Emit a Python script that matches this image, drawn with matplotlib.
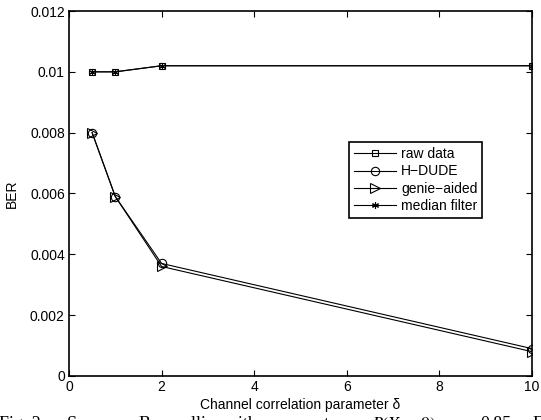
import matplotlib
matplotlib.use("Agg")
import matplotlib.pyplot as plt

plt.rcParams['font.family'] = ['Liberation Sans', 'DejaVu Sans']
plt.rcParams['mathtext.fontset'] = 'stix'

# data
delta = [0.5, 1, 2, 10]
raw_data = [0.0100, 0.0100, 0.0102, 0.0102]
h_dude = [0.0080, 0.0059, 0.0037, 0.0009]
genie_aided = [0.0080, 0.0059, 0.0036, 0.0008]
median_filter = [0.0100, 0.0100, 0.0102, 0.0102]

xticks = [0, 2, 4, 6, 8, 10]
yticks = [0, 0.002, 0.004, 0.006, 0.008, 0.01, 0.012]
yticklabels = ["0", "0.002", "0.004", "0.006", "0.008", "0.01", "0.012"]

# caption words of the (cropped) paper figure, justified line
caption_words = ["Fig. 2.", "Source", "Bernoulli", "with", "parameter",
                 r"$P(X_t = 0)$", "=", "0.85.", "F"]
caption_x = [-1, 67, 139, 226, 272, 371, 462, 480, 533]

fig = plt.figure(figsize=(5.41, 4.20), dpi=100)
ax = fig.add_axes([0.1275, 0.1048, 0.8558, 0.869])

lw = 0.8
ms = 5
ax.plot(delta, raw_data, color="k", lw=lw, marker="s", ms=ms, mfc="none", mew=0.8, label="raw data")
ax.plot(delta, h_dude, color="k", lw=lw, marker="o", ms=ms + 1, mfc="none", mew=0.8, label="H\u2212DUDE")
ax.plot(delta, genie_aided, color="k", lw=lw, marker=">", ms=ms + 1.5, mfc="none", mew=0.8, label="genie\u2212aided")
ax.plot(delta, median_filter, color="k", lw=lw, marker=(6, 2, 0), ms=ms, mew=0.8, label="median filter")

ax.set_xlim(0, 10)
ax.set_ylim(0, 0.012)
ax.set_xticks(xticks)
ax.set_xticklabels([str(t) for t in xticks])
ax.set_yticks(yticks)
ax.set_yticklabels(yticklabels)
ax.tick_params(direction="in", length=4, width=0.8, top=True, right=True, labelsize=10, pad=3)
for s in ax.spines.values():
    s.set_linewidth(1.2)

ax.set_xlabel("Channel correlation parameter \u03b4", fontsize=10, labelpad=3)
ax.set_ylabel("BER", fontsize=10)
ax.yaxis.set_label_coords(-0.108, 0.5)

leg = ax.legend(loc="upper left", bbox_to_anchor=(0.605, 0.641), borderaxespad=0, fontsize=10,
                frameon=True, fancybox=False, edgecolor="k", framealpha=1,
                handlelength=3.0, handletextpad=0.4, labelspacing=0.25, borderpad=0.35)
leg.get_frame().set_linewidth(1.2)

# caption of the paper, cut off at the bottom edge
for word, x in zip(caption_words, caption_x):
    fig.text(x / 541, -0.021, word, fontsize=13, family=["Liberation Serif", "DejaVu Serif"],
             ha="left", va="baseline")

fig.savefig("out.png", dpi=100)
